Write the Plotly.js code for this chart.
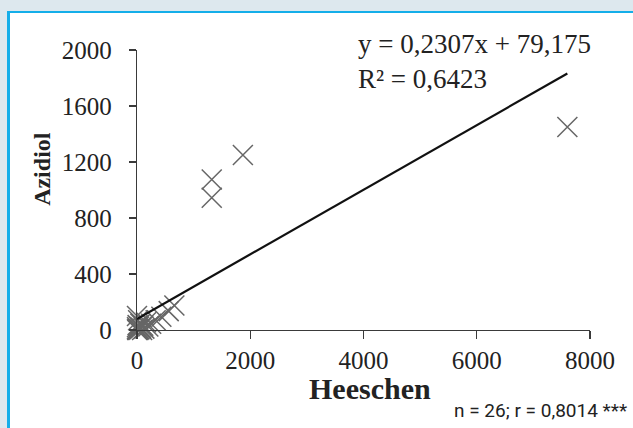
<!DOCTYPE html>
<html>
<head>
<meta charset="utf-8">
<script src="https://cdn.plot.ly/plotly-3.0.1.min.js"></script>
<style>
  html, body { margin:0; padding:0; width:633px; height:428px; overflow:hidden; background:#dde8ee; }
  #frame { position:absolute; left:7px; top:11px; width:626px; height:417px; background:#ffffff;
           border-left:3px solid #14aee9; border-top:2px solid #14aee9; }
  #chart { position:absolute; left:0; top:0; width:633px; height:428px; }
</style>
</head>
<body>
<div id="frame"></div>
<div id="chart"></div>
<script>
// Heeschen (x) vs Azidiol (y) measurements
const heeschen = [7600, 1870, 1320, 1320,
  660, 560, 430, 330, 250, 200, 160, 130, 110, 90, 70, 60, 45, 35, 25, 20, 15, 10, 5, 0, 0, 0];
const azidiol  = [1450, 1250, 1075, 945,
  175, 135, 95, 70, 45, 25, 55, 10, 30, 0, 15, 45, 5, 25, 0, 70, 10, 35, 0, 100, 20, 5];
// trendline parameters (Excel linear fit)
const slope = 0.2307;
const intercept = 79.175;
const xTicks = [0, 2000, 4000, 6000, 8000];
const yTicks = [0, 400, 800, 1200, 1600, 2000];

const xMin = Math.min(...heeschen), xMax = Math.max(...heeschen);
const serif = "Liberation Serif, Times New Roman, serif";

const traces = [
  {
    x: heeschen, y: azidiol, type: 'scatter', mode: 'markers',
    marker: { symbol: 'x-thin-open', size: 20, color: '#666666', line: { color: '#666666', width: 1.5 } },
    cliponaxis: false, hoverinfo: 'x+y'
  },
  {
    x: [xMin, xMax], y: [slope * xMin + intercept, slope * xMax + intercept],
    type: 'scatter', mode: 'lines', line: { color: '#111111', width: 2.2 },
    cliponaxis: false, hoverinfo: 'skip'
  }
];

const layout = {
  width: 633, height: 428,
  margin: { l: 137, r: 43, t: 50, b: 98 },
  paper_bgcolor: 'rgba(0,0,0,0)', plot_bgcolor: 'rgba(0,0,0,0)',
  showlegend: false,
  font: { family: serif, color: '#222222' },
  xaxis: {
    range: [0, 8000], tickvals: xTicks, ticktext: xTicks.map(String),
    showgrid: false, zeroline: false, showline: true, linecolor: '#3a3a3a', linewidth: 1.2,
    ticks: 'outside', ticklen: 8, tickcolor: '#3a3a3a', tickwidth: 1.2,
    tickfont: { family: serif, size: 25, color: '#222222' }, ticklabelstandoff: 0
  },
  yaxis: {
    range: [0, 2000], tickvals: yTicks, ticktext: yTicks.map(String),
    showgrid: false, zeroline: false, showline: true, linecolor: '#3a3a3a', linewidth: 1.2,
    ticks: 'outside', ticklen: 7, tickcolor: '#3a3a3a', tickwidth: 1.2,
    tickfont: { family: serif, size: 25, color: '#222222' }, ticklabelstandoff: 12
  },
  annotations: [
    { text: 'y = 0,2307x + 79,175<br>R² = 0,6423', xref: 'paper', yref: 'paper',
      x: 0.484, y: 1.082, xanchor: 'left', yanchor: 'top', align: 'left', showarrow: false,
      font: { family: serif, size: 27, color: '#222222' } },
    { text: '<b>Heeschen</b>', xref: 'paper', yref: 'paper', x: 0.514, y: -0.21,
      xanchor: 'center', yanchor: 'middle', showarrow: false,
      font: { family: serif, size: 30, color: '#222222' } },
    { text: '<b>Azidiol</b>', xref: 'paper', yref: 'paper', x: -0.21, y: 0.575, textangle: -90,
      xanchor: 'center', yanchor: 'middle', showarrow: false,
      font: { family: serif, size: 24, color: '#222222' } },
    { text: 'n = 26; r = 0,8014 ***', xref: 'paper', yref: 'paper', x: 0.695, y: -0.289,
      xanchor: 'left', yanchor: 'middle', showarrow: false,
      font: { family: "Liberation Sans Narrow, Arial Narrow, Roboto, sans-serif", size: 19, color: '#222222' } }
  ]
};

Plotly.newPlot('chart', traces, layout, { displayModeBar: false, staticPlot: true });
</script>
</body>
</html>
